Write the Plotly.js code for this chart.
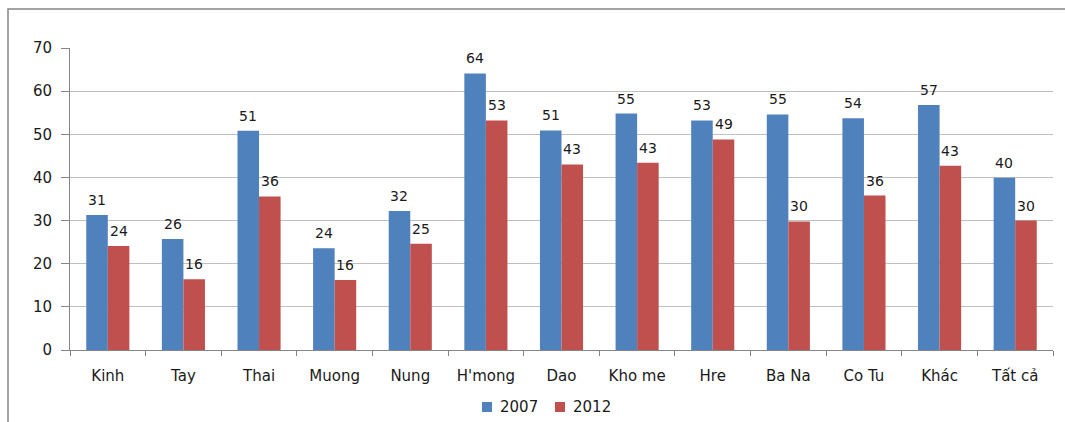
<!DOCTYPE html>
<html>
<head>
<meta charset="utf-8">
<script src="https://cdn.plot.ly/plotly-3.0.1.min.js"></script>
<style>html,body{margin:0;padding:0;background:#fff;}#chart{width:1065px;height:422px;}</style>
</head>
<body>
<div id="chart"></div>
<script>
var categories = ["Kinh", "Tay", "Thai", "Muong", "Nung", "H'mong", "Dao", "Kho me", "Hre", "Ba Na", "Co Tu", "Khác", "Tất cả"];
var series2007 = [31.3, 25.7, 50.8, 23.6, 32.2, 64.1, 50.9, 54.8, 53.2, 54.6, 53.7, 56.8, 39.9];
var series2012 = [24.1, 16.4, 35.6, 16.2, 24.6, 53.2, 43.0, 43.4, 48.8, 29.8, 35.8, 42.7, 30.0];
var seriesNames = ["2007", "2012"];
var yTicks = [0, 10, 20, 30, 40, 50, 60, 70];

var fontFam = "DejaVu Sans, Verdana, sans-serif";
var colors = ["#4F81BD", "#C0504D"];

// plot-area geometry (pixels) used to place frame and legend in paper coords
var L = 70, R = 12, T = 48, B = 72, W = 1065, H = 422;
var pw = W - L - R, ph = H - T - B;
function px(x) { return (x - L) / pw; }
function py(y) { return (H - B - y) / ph; }

var traces = [series2007, series2012].map(function (vals, i) {
  return {
    type: "bar",
    name: seriesNames[i],
    x: categories,
    y: vals,
    marker: {color: colors[i]},
    hoverinfo: "x+y",
    showlegend: false
  };
});

var annotations = [];
[series2007, series2012].forEach(function (vals, i) {
  vals.forEach(function (v, j) {
    annotations.push({
      x: categories[j], y: v, xref: "x", yref: "y",
      text: String(Math.round(v)),
      showarrow: false,
      xshift: i === 0 ? -10.8 : 10.8,
      yshift: 5,
      yanchor: "bottom",
      font: {family: fontFam, size: 14, color: "#1a1a1a"}
    });
  });
});

// custom legend
var legendSquares = [482, 555];
var legendText = [498, 571];
var shapes = [{
  type: "rect", xref: "paper", yref: "paper",
  x0: px(8), x1: px(1075), y0: py(440), y1: py(9),
  line: {color: "#868686", width: 1.5}, fillcolor: "rgba(0,0,0,0)", layer: "below"
}];
seriesNames.forEach(function (name, i) {
  shapes.push({
    type: "rect", xref: "paper", yref: "paper",
    x0: px(legendSquares[i]), x1: px(legendSquares[i] + 10),
    y0: py(412), y1: py(402),
    line: {width: 0}, fillcolor: colors[i]
  });
  annotations.push({
    xref: "paper", yref: "paper", x: px(legendText[i]), y: py(407),
    xanchor: "left", yanchor: "middle", showarrow: false,
    text: name, font: {family: fontFam, size: 15, color: "#1a1a1a"}
  });
});

var layout = {
  width: W, height: H,
  margin: {l: L, r: R, t: T, b: B},
  paper_bgcolor: "#ffffff",
  plot_bgcolor: "#ffffff",
  barmode: "group",
  bargap: 0.43,
  bargroupgap: 0,
  font: {family: fontFam, size: 15, color: "#1a1a1a"},
  showlegend: false,
  xaxis: {
    type: "category", automargin: false,
    showline: true, linecolor: "#868686", linewidth: 1,
    ticks: "outside", tickson: "boundaries", ticklen: 5, tickcolor: "#868686",
    ticklabelstandoff: 12,
    showgrid: false, zeroline: false,
    tickfont: {family: fontFam, size: 15, color: "#1a1a1a"}
  },
  yaxis: {
    range: [0, 70], automargin: false,
    tickvals: yTicks,
    showline: true, linecolor: "#868686", linewidth: 1,
    ticks: "outside", ticklen: 8, tickcolor: "#868686",
    ticklabelstandoff: 6,
    showgrid: true, gridcolor: "#C0C0C0", gridwidth: 1,
    zeroline: false,
    tickfont: {family: fontFam, size: 15, color: "#1a1a1a"}
  },
  shapes: shapes,
  annotations: annotations
};

Plotly.newPlot("chart", traces, layout, {displayModeBar: false, staticPlot: true});
</script>
</body>
</html>
